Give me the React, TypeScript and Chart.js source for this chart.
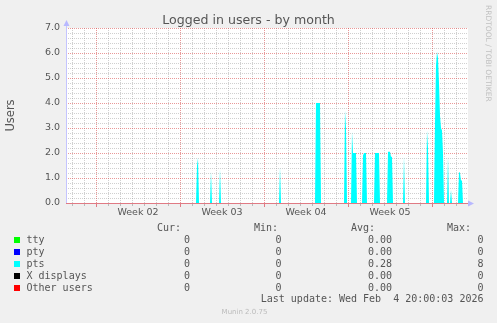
import React, { useEffect, useRef } from "react";
import { Chart, registerables } from "chart.js";

Chart.register(...registerables);

// pts sessions, 2-hour averages. x = hours since 2026-01-01 00:00
const ptsHours = [
  296, 298, 300, 302,
  324, 326, 328,
  342, 344, 346,
  462, 464, 466,
  534, 536, 538, 540, 542, 544, 546,
  592, 594, 596, 598,
  606, 608, 610, 612, 614, 616, 618,
  628, 630, 632, 634, 636, 638,
  652, 654, 656, 658, 660, 662, 664,
  678, 680, 682, 684, 686, 688, 690,
  710, 712, 714,
  756, 758, 760, 762,
  772, 774, 776, 778, 780, 782, 784, 786, 788, 790, 792,
  798, 800, 802,
  804, 806, 808,
  820, 822, 824, 826, 828, 830,
];
const ptsUsers = [
  0, 1.5, 1.8, 0,
  0, 1.25, 0,
  0, 1.35, 0,
  0, 1.43, 0,
  0, 4.0, 4.0, 4.0, 4.0, 4.0, 0,
  0, 3.7, 3.0, 0,
  0, 2.85, 2.0, 2.0, 2.0, 2.0, 0,
  0, 1.9, 2.0, 2.0, 2.0, 0,
  0, 2.0, 2.0, 2.0, 2.0, 2.0, 0,
  0, 2.05, 2.05, 2.05, 1.85, 1.85, 0,
  0, 1.85, 0,
  0, 2.9, 2.2, 0,
  0, 3.2, 5.5, 6.05, 5.8, 4.8, 3.5, 3.0, 2.9, 2.0, 0,
  0, 1.85, 0,
  0, 0.52, 0,
  0, 1.25, 1.2, 0.9, 0.9, 0,
];

const xStartHour = 36; // Jan 2 12:00
const xEndHour = 836; // Feb 4 20:00
const weekStartHours = [96, 264, 432, 600, 768];
const weekLabelHours = [180, 348, 516, 684];
const weekLabels = ["Week 02", "Week 03", "Week 04", "Week 05"];
const yMax = 7;

const legendNames = ["tty", "pty", "pts", "X displays", "Other users"];
const legendColors = ["#00ff00", "#0000ff", "#00ffff", "#000000", "#ff0000"];
const curValues = ["0", "0", "0", "0", "0"];
const minValues = ["0", "0", "0", "0", "0"];
const avgValues = ["0.00", "0.00", "0.28", "0.00", "0.00"];
const maxValues = ["0", "0", "8", "0", "0"];

const MAJOR = "rgba(215,70,70,0.55)";
const MINOR = "rgba(150,150,150,0.45)";
const TEXT = "#555";
const SANS = "'DejaVu Sans', sans-serif";
const MONO = "'DejaVu Sans Mono', monospace";

const dayTicks: number[] = [];
for (let h = 48; h < xEndHour; h += 24) dayTicks.push(h);
const xTicks = [...dayTicks, ...weekLabelHours].sort((a, b) => a - b);
const yTicks: number[] = [];
for (let i = 0; i <= yMax * 5; i++) yTicks.push(i / 5);

const muninPlugin = {
  id: "munin",
  beforeDraw(chart: any) {
    const { ctx, chartArea } = chart;
    const { left, top, right, bottom } = chartArea;
    ctx.save();
    ctx.fillStyle = "#ffffff";
    ctx.fillRect(left, top, right - left + 2, bottom - top);
    ctx.restore();
  },
  beforeDatasetsDraw(chart: any) {
    const { ctx, chartArea, scales } = chart;
    const { left, top, right, bottom } = chartArea;
    const xs = scales.x;
    const ys = scales.y;
    ctx.save();
    // horizontal dotted grid: minor first, then major
    [false, true].forEach((wantMajor) => {
      yTicks.forEach((v) => {
        const major = Math.abs(v - Math.round(v)) < 1e-6;
        if (major !== wantMajor) return;
        const py = Math.round(ys.getPixelForValue(v));
        ctx.fillStyle = major ? MAJOR : MINOR;
        for (let x = left; x <= right + 1; x += 2) ctx.fillRect(x, py, 1, 1);
      });
      dayTicks.forEach((h) => {
        const major = weekStartHours.includes(h);
        if (major !== wantMajor) return;
        const px = Math.round(xs.getPixelForValue(h));
        ctx.fillStyle = major ? MAJOR : MINOR;
        for (let y = top; y < bottom; y += 2) ctx.fillRect(px, y, 1, 1);
      });
    });
    ctx.restore();
  },
  afterDatasetsDraw(chart: any) {
    const { ctx, chartArea, scales } = chart;
    const { left, top, right, bottom } = chartArea;
    const xs = scales.x;
    ctx.save();
    // tick marks below the baseline
    dayTicks.forEach((h) => {
      const px = Math.round(xs.getPixelForValue(h));
      const major = weekStartHours.includes(h);
      ctx.fillStyle = major ? "#e07a84" : "rgba(150,150,150,0.6)";
      ctx.fillRect(px, bottom + 1, 1, major ? 3 : 2);
    });
    // left axis
    ctx.fillStyle = "#c4c4ff";
    ctx.fillRect(left, top - 4, 1, bottom - top + 5);
    ctx.beginPath();
    ctx.moveTo(left + 0.5, top - 8);
    ctx.lineTo(left - 2.5, top - 2);
    ctx.lineTo(left + 3.5, top - 2);
    ctx.closePath();
    ctx.fillStyle = "#b8b8ff";
    ctx.fill();
    // baseline
    ctx.fillStyle = "#e07a84";
    ctx.fillRect(left, bottom, right - left + 2, 1);
    // right arrow
    ctx.beginPath();
    ctx.moveTo(right + 8, bottom + 0.5);
    ctx.lineTo(right + 2, bottom - 2.5);
    ctx.lineTo(right + 2, bottom + 3.5);
    ctx.closePath();
    ctx.fillStyle = "#b8b8ff";
    ctx.fill();
    ctx.restore();
  },
};

export default function App() {
  const canvasRef = useRef<HTMLCanvasElement | null>(null);

  useEffect(() => {
    if (!canvasRef.current) return;
    const chart = new Chart(canvasRef.current, {
      type: "line",
      data: {
        datasets: [
          {
            label: "pts",
            data: ptsHours.map((h, i) => ({ x: h, y: ptsUsers[i] })),
            borderColor: "rgba(0,0,0,0)",
            borderWidth: 0,
            backgroundColor: "#00ffff",
            fill: "origin",
            pointRadius: 0,
            tension: 0,
          },
        ],
      },
      options: {
        animation: false,
        responsive: false,
        devicePixelRatio: 1,
        layout: { padding: { left: 0, right: 31, top: 28, bottom: 100 } },
        plugins: { legend: { display: false }, title: { display: false }, tooltip: { enabled: false } },
        events: [],
        scales: {
          x: {
            type: "linear",
            min: xStartHour,
            max: xEndHour,
            afterBuildTicks: (s: any) => {
              s.ticks = xTicks.map((v) => ({ value: v }));
            },
            afterFit: (s: any) => {
              s.height = 20;
            },
            grid: { display: false, drawTicks: false },
            border: { display: false },
            ticks: {
              autoSkip: false,
              maxRotation: 0,
              minRotation: 0,
              padding: 4,
              color: TEXT,
              font: { family: SANS, size: 9.5 },
              callback: (v: any) => {
                const idx = weekLabelHours.indexOf(Number(v));
                return idx >= 0 ? weekLabels[idx] : "";
              },
            },
          },
          y: {
            type: "linear",
            min: 0,
            max: yMax,
            afterBuildTicks: (s: any) => {
              s.ticks = yTicks.map((v) => ({ value: v }));
            },
            afterFit: (s: any) => {
              s.width = 66;
            },
            grid: { display: false, drawTicks: false },
            border: { display: false },
            ticks: {
              autoSkip: false,
              padding: 6,
              color: TEXT,
              font: { family: SANS, size: 9.5 },
              callback: (v: any) => {
                const n = Number(v);
                return Math.abs(n - Math.round(n)) < 1e-6 ? n.toFixed(1) : "";
              },
            },
            title: {
              display: true,
              text: "Users",
              color: TEXT,
              font: { family: SANS, size: 11.5 },
              padding: { top: 4, bottom: 0 },
            },
          },
        },
      },
      plugins: [muninPlugin],
    } as any);
    return () => chart.destroy();
  }, []);

  const rowTop = (i: number) => 233.9 + i * 11.9;
  const mono: React.CSSProperties = {
    position: "absolute",
    font: `10px ${MONO}`,
    lineHeight: "12px",
    color: TEXT,
    whiteSpace: "pre",
  };
  const right = (r: number): React.CSSProperties => ({ right: 497 - r });

  return (
    <div
      style={{
        position: "fixed",
        left: 0,
        top: 0,
        width: 497,
        height: 323,
        background: "#f0f0f0",
        overflow: "hidden",
      }}
    >
      <canvas ref={canvasRef} width={497} height={323} style={{ display: "block" }} />
      <div
        style={{
          position: "absolute",
          left: 0,
          top: 12,
          width: 497,
          textAlign: "center",
          font: `12.6px ${SANS}`,
          lineHeight: "15px",
          color: TEXT,
          whiteSpace: "pre",
        }}
      >
        Logged in users - by month
      </div>
      <div
        style={{
          position: "absolute",
          left: 484,
          top: 5,
          writingMode: "vertical-rl",
          font: `7.5px ${SANS}`,
          lineHeight: "8px",
          color: "#c0c0c0",
          whiteSpace: "pre",
        }}
      >
        RRDTOOL / TOBI OETIKER
      </div>
      <div style={{ ...mono, ...right(181), top: 222.3 }}>Cur:</div>
      <div style={{ ...mono, ...right(278), top: 222.3 }}>Min:</div>
      <div style={{ ...mono, ...right(375), top: 222.3 }}>Avg:</div>
      <div style={{ ...mono, ...right(471), top: 222.3 }}>Max:</div>
      {legendNames.map((name, i) => (
        <React.Fragment key={name}>
          <div
            style={{
              position: "absolute",
              left: 14,
              top: rowTop(i) + 3.5,
              width: 6,
              height: 6,
              background: legendColors[i],
            }}
          />
          <div style={{ ...mono, left: 26.5, top: rowTop(i) }}>{name}</div>
          <div style={{ ...mono, ...right(190), top: rowTop(i) }}>{curValues[i]}</div>
          <div style={{ ...mono, ...right(281.5), top: rowTop(i) }}>{minValues[i]}</div>
          <div style={{ ...mono, ...right(392), top: rowTop(i) }}>{avgValues[i]}</div>
          <div style={{ ...mono, ...right(483.5), top: rowTop(i) }}>{maxValues[i]}</div>
        </React.Fragment>
      ))}
      <div style={{ ...mono, ...right(483.5), top: 292.8 }}>Last update: Wed Feb  4 20:00:03 2026</div>
      <div
        style={{
          position: "absolute",
          left: 0,
          width: 489,
          top: 308,
          textAlign: "center",
          font: `7px ${SANS}`,
          lineHeight: "9px",
          color: "#bbbbbb",
          whiteSpace: "pre",
        }}
      >
        Munin 2.0.75
      </div>
    </div>
  );
}
